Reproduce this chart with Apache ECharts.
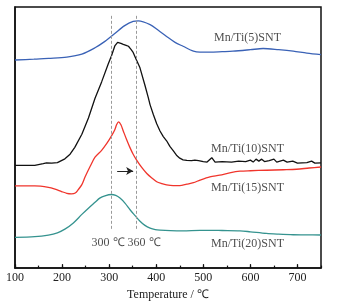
<!DOCTYPE html>
<html>
<head>
<meta charset="utf-8">
<script src="https://cdn.jsdelivr.net/npm/echarts@6/dist/echarts.min.js"></script>
<style>
  html, body { margin: 0; padding: 0; background: #fff; }
  #chart { width: 347px; height: 306px; }
</style>
</head>
<body>
<div id="chart"></div>
<script>
// TPR 曲线（各样品纵向错开，纵轴无刻度）

const mnTi5 = [[100,212],[140,212.8],[171,213.7],[210,215],[242,218],[270,224.5],[291,231],[312,239],[333,247],[351,251.3],[362,251.8],[387,248],[405,242],[422,236],[440,230],[457,226],[479,221],[493,220],[514,220],[540,220.5],[563,221],[600,222.5],[627,223.7],[660,222.5],[691,221],[720,219],[750,217.5]]

const mnTi10 = [[100,104.7],[120,104.7],[142,104.7],[160,106.5],[167,107.3],[178,107],[190,107.5],[206,111.3],[217,116],[227,123],[242,136.3],[256,153],[270,173],[284,189.7],[298,208],[305,216.3],[312,226.3],[318,230],[321,232],[325,229],[330,228],[336,227],[341,226],[346,223],[351,219.7],[358,212],[365,204.7],[376,186.3],[383,174],[387,166.3],[394,156.3],[401,147],[408,139.7],[415,134],[422,129.7],[429,124],[436,119.7],[443,115],[450,112],[457,110.3],[465,109.7],[475,109.5],[482,110],[486,112],[490,109.5],[500,108.5],[508,108],[518,112.5],[525,108],[540,108.5],[560,108],[575,109],[590,108.5],[600,110],[606,108],[612,111],[618,109],[624,111],[630,108.5],[640,109.5],[650,111],[656,108],[670,110],[678,108],[690,109],[700,107],[720,107.5],[730,109],[737,107],[750,107.3]]

const mnTi15 = [[100,83.7],[142,83.7],[171,82.3],[185,80.5],[199,78],[210,76.2],[220,75.7],[228,76.5],[234,79.7],[242,85],[249,93],[260,104],[270,113],[284,120],[295,127],[305,134.7],[312,141],[316,146.3],[320,149],[325,146],[330,139.7],[337,131],[344,123],[351,116],[358,110.3],[370,102],[380,96.3],[390,92],[401,88],[412,86],[422,84.7],[436,84],[450,84],[465,85.5],[479,87],[493,89.7],[514,93],[535,94.7],[556,97],[578,98.7],[600,99.2],[634,99.7],[670,100.2],[698,100.7],[725,102],[750,103]]

const mnTi20 = [[100,31.3],[142,32],[171,33.7],[190,36],[206,39.7],[224,46],[242,54.7],[256,61],[270,67],[280,71.3],[291,73.7],[305,75],[314,74],[323,71.3],[334,66],[344,59.7],[355,53.5],[365,48],[376,43.5],[387,40.7],[398,39.2],[408,38.7],[430,38.2],[457,38],[493,38.5],[514,38.5],[540,38.3],[578,38],[600,37],[634,35.3],[660,34.6],[691,34],[720,33.8],[750,33.7]]

const guideTemps = [305, 358]
const guideRange = [40, 259]
const arrowFrom = [317, 99]
const arrowTo = [351, 99]

const labels = [
  [594, 235, 'Mn/Ti(5)SNT'],
  [594, 122, 'Mn/Ti(10)SNT'],
  [594, 82, 'Mn/Ti(15)SNT'],
  [594, 25, 'Mn/Ti(20)SNT'],
  [336, 26, '300 ℃ 360 ℃'],
]

const FONT = '"Liberation Serif", "Times New Roman", serif'

const chart = echarts.init(document.getElementById('chart'), null, { renderer: 'canvas' })

function curve(name, data, color) {
  return {
    name,
    type: 'line',
    data,
    symbol: 'none',
    smooth: 0.3,
    lineStyle: { color, width: 1.3 },
    z: 3,
  }
}

chart.setOption({
  backgroundColor: '#fff',
  animation: false,
  grid: {
    left: 15, right: 26, top: 7, bottom: 33,
    show: true, borderColor: '#111', borderWidth: 1.5,
  },
  xAxis: [
    {
      type: 'value',
      min: 100, max: 750, interval: 100,
      name: 'Temperature / ℃',
      nameLocation: 'middle',
      nameGap: 17,
      nameTextStyle: { fontFamily: FONT, fontSize: 12, color: '#222' },
      axisLine: { lineStyle: { color: '#111', width: 1.5 } },
      axisTick: { inside: true, length: 4, lineStyle: { color: '#111', width: 1.2 } },
      axisLabel: { showMaxLabel: false, margin: 4, fontFamily: FONT, fontSize: 12, color: '#222' },
      splitLine: { show: false },
    },
    {
      type: 'value',
      position: 'bottom',
      min: 100, max: 750, interval: 50,
      axisLine: { show: false },
      axisTick: { inside: true, length: 2.5, lineStyle: { color: '#111', width: 1.2 } },
      axisLabel: { show: false },
      splitLine: { show: false },
    },
  ],
  yAxis: {
    type: 'value',
    min: 0, max: 266,
    axisLine: { show: true, lineStyle: { color: '#111', width: 1.5 } },
    axisTick: { show: false },
    axisLabel: { show: false },
    splitLine: { show: false },
  },
  series: [
    curve('Mn/Ti(5)SNT', mnTi5, '#3a62b6'),
    Object.assign(curve('Mn/Ti(10)SNT', mnTi10, '#111'), { smooth: false }),
    curve('Mn/Ti(15)SNT', mnTi15, '#f0352c'),
    curve('Mn/Ti(20)SNT', mnTi20, '#35938f'),
    {
      type: 'line',
      data: [],
      silent: true,
      markLine: {
        silent: true,
        symbol: 'none',
        label: { show: false },
        lineStyle: { color: '#9a9a9a', width: 1, type: [3, 2] },
        data: guideTemps.map((t) => [{ coord: [t, guideRange[0]] }, { coord: [t, guideRange[1]] }]),
      },
      z: 1,
    },
    {
      type: 'line',
      data: [],
      silent: true,
      markLine: {
        silent: true,
        symbol: ['none', 'arrow'],
        symbolSize: [6, 7],
        label: { show: false },
        lineStyle: { color: '#222', width: 1, type: 'solid' },
        data: [[{ coord: arrowFrom }, { coord: arrowTo }]],
      },
    },
    {
      type: 'scatter',
      data: labels,
      symbolSize: 0,
      silent: true,
      label: {
        show: true,
        position: 'inside',
        formatter: (p) => p.value[2],
        fontFamily: FONT,
        fontSize: 12,
        color: '#222',
      },
      z: 5,
    },
  ],
})
</script>
</body>
</html>
